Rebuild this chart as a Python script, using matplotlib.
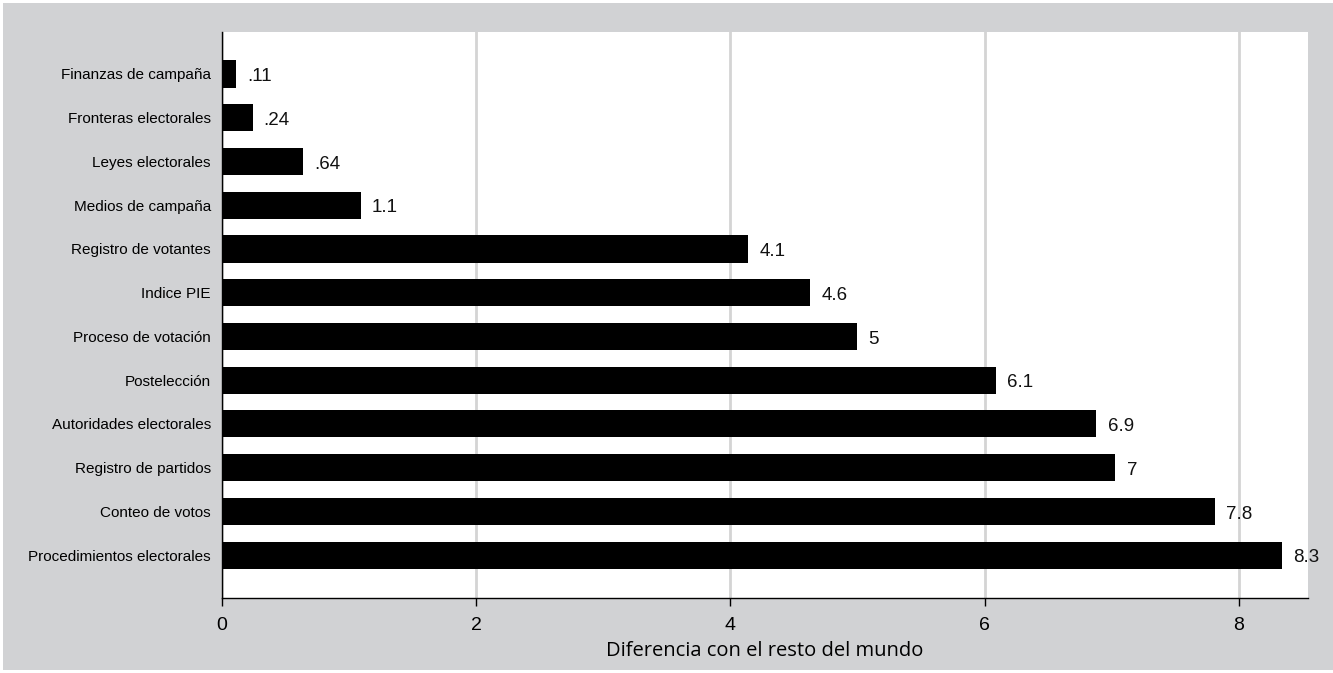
import matplotlib.pyplot as plt
from matplotlib.patches import Rectangle

# --- Data ---
categories = ["Procedimientos electorales", "Conteo de votos", "Registro de partidos",
              "Autoridades electorales", "Postelección", "Proceso de votación",
              "Indice PIE", "Registro de votantes", "Medios de campaña",
              "Leyes electorales", "Fronteras electorales", "Finanzas de campaña"]
values = [8.34, 7.81, 7.03, 6.88, 6.09, 5.0, 4.63, 4.14, 1.09, 0.64, 0.24, 0.11]
value_labels = ["8.3", "7.8", "7", "6.9", "6.1", "5", "4.6", "4.1", "1.1", ".64", ".24", ".11"]
xticks = [0, 2, 4, 6, 8]

GRAY = "#d1d2d4"
plt.rcParams['font.family'] = ['Liberation Sans', 'DejaVu Sans']

fig = plt.figure(figsize=(13.33, 6.73), dpi=100, facecolor="white")
# outer gray panel (thin white border at top/left/bottom)
fig.patches.append(Rectangle((3 / 1333, 3 / 673), 1 - 3 / 1333, 1 - 6 / 673,
                             transform=fig.transFigure, facecolor=GRAY,
                             edgecolor="none", zorder=-10))

ax = fig.add_axes([222 / 1333, 75 / 673, (1308 - 222) / 1333, (641 - 75) / 673])
ax.set_facecolor("white")

ypos = list(range(len(categories)))
ax.barh(ypos, values, height=0.62, color="black", zorder=3)

for y, v, lab in zip(ypos, values, value_labels):
    ax.annotate(lab, (v, y), xytext=(8, -2), textcoords="offset points",
                va="center", ha="left", fontsize=13.5, color="#111111")

ax.set_xlim(0, 8.545)
ax.set_ylim(-0.98, 11.96)
ax.set_xticks(xticks)
ax.set_xticklabels([str(t) for t in xticks], fontsize=14)
ax.set_yticks(ypos)
ax.set_yticklabels(categories, fontsize=11)
ax.tick_params(axis="y", length=0, pad=8)
ax.tick_params(axis="x", length=6, width=1, direction="out", pad=8)

ax.grid(axis="x", color="#d4d4d4", linewidth=2, zorder=0)
ax.set_axisbelow(True)
for s in ["top", "right"]:
    ax.spines[s].set_visible(False)
ax.spines["left"].set_linewidth(1)
ax.spines["bottom"].set_linewidth(1)

ax.set_xlabel("Diferencia con el resto del mundo", fontsize=14.5,
              family=["Open Sans", "DejaVu Sans"], labelpad=4.5)

fig.savefig("out.png", dpi=100, facecolor=fig.get_facecolor())
